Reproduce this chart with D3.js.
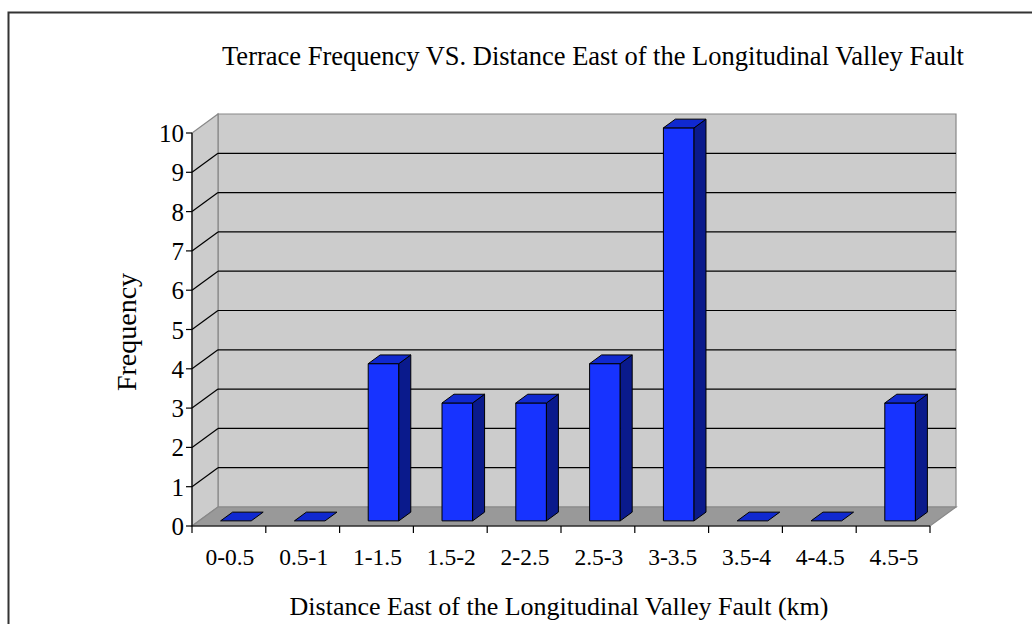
<!DOCTYPE html>
<html><head><meta charset="utf-8">
<script src="https://cdn.jsdelivr.net/npm/d3@7"></script>
<style>body{margin:0;background:#fff}svg{display:block}</style>
</head><body>
<svg id="chart" width="1032" height="624"></svg>
<script>
const categories = ["0-0.5","0.5-1","1-1.5","1.5-2","2-2.5","2.5-3","3-3.5","3.5-4","4-4.5","4.5-5"];
const frequencies = [0,0,4,3,3,4,10,0,0,3];
const yTicks = [0,1,2,3,4,5,6,7,8,9,10];
const titleText = "Terrace Frequency VS. Distance East of the Longitudinal Valley Fault";
const xTitle = "Distance East of the Longitudinal Valley Fault (km)";
const yTitle = "Frequency";

const svg = d3.select("#chart");
const font = "'Liberation Serif','Times New Roman',serif";
const DX = 26, DY = -19;
const x = d3.scaleBand().domain(categories).range([192, 930]).paddingInner(0).paddingOuter(0);
const y = d3.scaleLinear().domain([0, 10]).range([526, 133]);
const pts = a => a.map(p => p.join(",")).join(" ");

// outer border
svg.append("rect").attr("x",8.5).attr("y",12.5).attr("width",1100).attr("height",700)
  .attr("fill","#fff").attr("stroke","#333").attr("stroke-width",2);

const x0 = x.range()[0], x1 = x.range()[1];
// walls
svg.append("polygon").attr("points", pts([[x0+DX,y(0)+DY],[x0+DX,y(10)+DY],[x1+DX,y(10)+DY],[x1+DX,y(0)+DY]]))
  .attr("fill","#cccccc").attr("stroke","#888").attr("stroke-width",1.2);
svg.append("polygon").attr("points", pts([[x0,y(0)],[x0,y(10)],[x0+DX,y(10)+DY],[x0+DX,y(0)+DY]]))
  .attr("fill","#cccccc").attr("stroke","#888").attr("stroke-width",1.2);
svg.append("polygon").attr("points", pts([[x0,y(0)],[x1,y(0)],[x1+DX,y(0)+DY],[x0+DX,y(0)+DY]]))
  .attr("fill","#999999").attr("stroke","#888").attr("stroke-width",1.2);

// gridlines
const grid = yTicks.filter(v => v > 0 && v < 10);
svg.append("g").selectAll("line.h").data(grid).join("line")
  .attr("x1", x0+DX).attr("x2", x1+DX).attr("y1", d => y(d)+DY).attr("y2", d => y(d)+DY)
  .attr("stroke","#000").attr("stroke-width",1.2);
svg.append("g").selectAll("line.d").data(grid).join("line")
  .attr("x1", x0).attr("x2", x0+DX).attr("y1", d => y(d)).attr("y2", d => y(d)+DY)
  .attr("stroke","#000").attr("stroke-width",1.2);

// bars
const z0 = 0.27, z1 = 0.73;
const bw = x.bandwidth()*0.415;
const bars = svg.append("g");
categories.forEach((c, i) => {
  const v = frequencies[i];
  const cx = x(c) + x.bandwidth()/2;
  const fl = cx - bw/2 + z0*DX, fr = cx + bw/2 + z0*DX;
  const ft = y(v) + z0*DY, fb = y(0) + z0*DY;
  const ddx = (z1-z0)*DX, ddy = (z1-z0)*DY;
  const g = bars.append("g").attr("stroke","#000").attr("stroke-width",1).attr("stroke-linejoin","round");
  if (v > 0) {
    g.append("polygon").attr("points", pts([[fl,fb],[fl,ft],[fr,ft],[fr,fb]])).attr("fill","#1733ff");
    g.append("polygon").attr("points", pts([[fr,fb],[fr,ft],[fr+ddx,ft+ddy],[fr+ddx,fb+ddy]])).attr("fill","#0a1a8c");
  }
  g.append("polygon").attr("points", pts([[fl,ft],[fr,ft],[fr+ddx,ft+ddy],[fl+ddx,ft+ddy]])).attr("fill","#1029d0");
});

// axes
const ax = svg.append("g").attr("stroke","#000").attr("stroke-width",1.2);
ax.append("line").attr("x1",x0).attr("x2",x0).attr("y1",y(0)).attr("y2",y(10));
ax.append("line").attr("x1",x0).attr("x2",x1).attr("y1",y(0)).attr("y2",y(0));
ax.selectAll("line.yt").data(yTicks).join("line").attr("class","yt")
  .attr("x1",x0-6).attr("x2",x0).attr("y1",d=>y(d)).attr("y2",d=>y(d));
const bounds = categories.map(c => x(c)).concat([x1]);
ax.selectAll("line.xt").data(bounds).join("line").attr("class","xt")
  .attr("x1",d=>d).attr("x2",d=>d).attr("y1",y(0)).attr("y2",y(0)+7);

svg.append("g").selectAll("text").data(yTicks).join("text")
  .attr("x", x0-8).attr("y", d => y(d)+9).attr("text-anchor","end")
  .attr("font-family",font).attr("font-size",25).attr("fill","#000").text(d => d);
svg.append("g").selectAll("text").data(categories).join("text")
  .attr("x", d => x(d)+x.bandwidth()/2+1).attr("y", 565).attr("text-anchor","middle")
  .attr("font-family",font).attr("font-size",23.5).attr("fill","#000").text(d => d);

svg.append("text").attr("x",593).attr("y",65).attr("text-anchor","middle")
  .attr("font-family",font).attr("font-size",26.5).attr("fill","#000").text(titleText);
svg.append("text").attr("x",559).attr("y",615).attr("text-anchor","middle")
  .attr("font-family",font).attr("font-size",26).attr("fill","#000").text(xTitle);
svg.append("text").attr("transform","translate(136,332) rotate(-90)").attr("text-anchor","middle")
  .attr("font-family",font).attr("font-size",28).attr("fill","#000").text(yTitle);
</script>
</body></html>
